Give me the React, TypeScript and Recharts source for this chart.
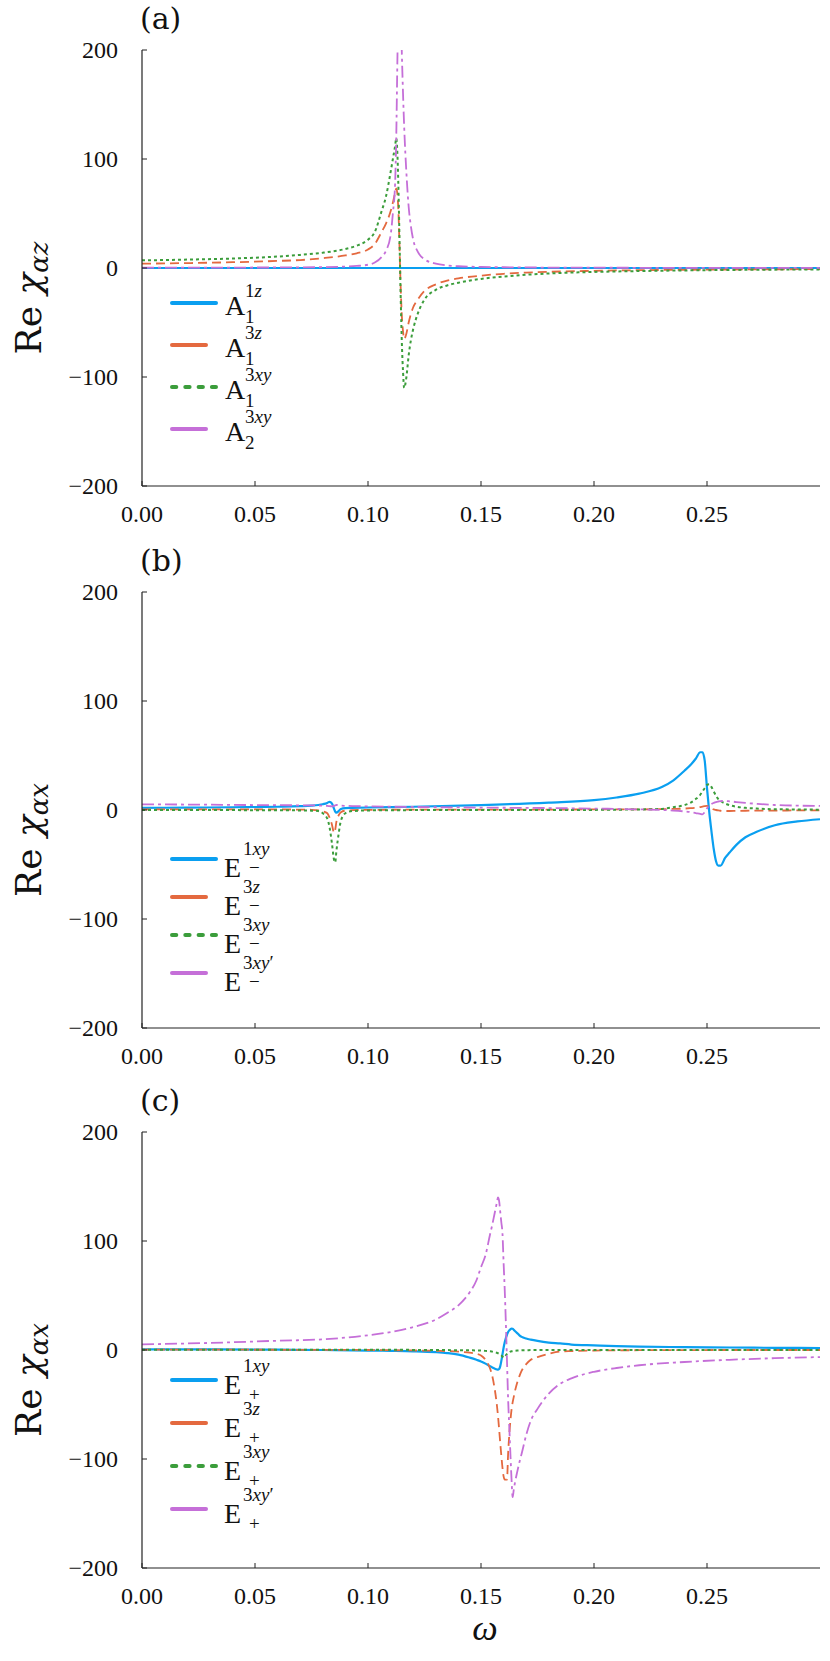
import { LineChart, Line, XAxis, YAxis, Legend } from 'recharts';

const FONT = 'Liberation Serif';
const FONT2 = 'DejaVu Serif';
const AXIS = '#222';
const W = 830;
const PLOT_L = 142;
const PLOT_R = 820;
const PLOT_T = 50;
const PLOT_H = 436;
const PLOT_B = PLOT_T + PLOT_H;

const xTicks = [0, 0.05, 0.1, 0.15, 0.2, 0.25];
const yTicks = [-200, -100, 0, 100, 200];

// panel (a): Re chi_{alpha z}
const omegaA = [0, 0.02, 0.04, 0.06, 0.07, 0.08, 0.09, 0.095, 0.1, 0.103, 0.106, 0.108, 0.11, 0.111, 0.112, 0.1125, 0.113, 0.1135, 0.114, 0.1145, 0.115, 0.1155, 0.116, 0.117, 0.118, 0.119, 0.12, 0.122, 0.125, 0.13, 0.135, 0.14, 0.15, 0.16, 0.17, 0.18, 0.2, 0.22, 0.25, 0.28, 0.3];
const a1_1z = [0, 0, 0, 0, 0, 0, 0, 0, 0, 0, 0, 0, 0, 0, 0, 0, 0, 0, 0, 0, 0, 0, 0, 0, 0, 0, 0, 0, 0, 0, 0, 0, 0, 0, 0, 0, 0, 0, 0, 0, 0];
const a1_3z = [4, 4.5, 5.3, 6.5, 7.3, 9, 11.5, 13.5, 17, 22, 33, 41, 52, 60, 69, 73, 68, 50, 15, -20, -45, -58, -65, -60, -50, -42, -36, -29, -21, -15, -11.5, -9.5, -7, -5.3, -4.2, -3.5, -2.6, -2, -1.5, -1.2, -1];
const a1_3xy = [7, 7.7, 8.7, 10.5, 12, 14, 17.5, 20.5, 26, 33, 52, 66, 88, 100, 112, 119, 105, 70, 20, -30, -70, -95, -110, -100, -80, -66, -56, -42, -29, -20, -16, -13.5, -10, -7.8, -6.2, -5, -3.6, -2.8, -2, -1.5, -1.3];
const a2_3xy = [0.3, 0.3, 0.4, 0.5, 0.6, 0.8, 1.3, 1.9, 3, 5, 10, 16, 30, 50, 78, 120, 190, 245, 260, 235, 195, 160, 130, 87, 56, 38, 26, 15, 8, 4, 2.3, 1.6, 1, 0.7, 0.5, 0.4, 0.3, 0.2, 0.2, 0.1, 0.1];

// panel (b): Re chi_{alpha x}, E-
const omegaB = [0, 0.02, 0.04, 0.06, 0.07, 0.075, 0.078, 0.08, 0.082, 0.083, 0.084, 0.085, 0.0855, 0.086, 0.087, 0.088, 0.09, 0.093, 0.1, 0.12, 0.15, 0.18, 0.2, 0.21, 0.22, 0.23, 0.235, 0.24, 0.243, 0.245, 0.247, 0.248, 0.249, 0.25, 0.251, 0.252, 0.253, 0.254, 0.255, 0.256, 0.258, 0.26, 0.263, 0.267, 0.272, 0.28, 0.29, 0.3];
const em_1xy = [2, 2.2, 2.5, 3, 3.5, 4, 4.6, 5.3, 6.5, 7.5, 6, 1, -1.5, -2.4, -1, 1, 1.8, 2, 2.3, 3, 4.5, 6.8, 9, 11.5, 15, 21, 27, 36, 42, 47, 53, 53, 45, 20, -2, -20, -36, -47, -51, -51, -44, -39, -32, -25, -20, -14, -10.5, -8.5];
const em_3z = [0.6, 0.6, 0.6, 0.5, 0.4, 0.2, -0.3, -1.2, -3, -7, -13, -21, -18, -11, -5, -2, -0.6, -0.2, 0.1, 0.3, 0.4, 0.4, 0.5, 0.5, 0.6, 0.8, 1, 1.3, 1.7, 2, 2.7, 3.1, 3.5, 3.7, 3, 1.5, 0.5, 0, -0.4, -0.7, -0.9, -0.9, -0.8, -0.7, -0.6, -0.5, -0.4, -0.3];
const em_3xy = [0, 0, -0.1, -0.2, -0.4, -0.6, -1, -3, -8, -16, -30, -46, -48, -38, -22, -10, -3, -1, -0.4, -0.1, 0, 0, 0.1, 0.3, 0.5, 1, 2.5, 4.5, 7, 10, 14, 17, 20, 23, 23.6, 21, 17, 13, 10, 8.3, 6, 4.5, 3, 2, 1.3, 0.7, 0.5, 0.3];
const em_3xyp = [5.2, 5, 4.7, 4.4, 4.3, 4.2, 4.1, 4, 3.8, 3.5, 3.3, 3.8, 4.3, 4.6, 4.2, 4, 3.8, 3.6, 3.3, 2.8, 2.2, 1.8, 1.3, 1, 0.6, 0, -0.5, -1.3, -2, -2.8, -3.5, -4, -2, 1.5, 4, 5.5, 6.5, 7.3, 7.8, 8.2, 8.3, 8, 7.3, 6.5, 5.7, 4.6, 4, 3.7];

// panel (c): Re chi_{alpha x}, E+
const omegaC = [0, 0.03, 0.06, 0.08, 0.1, 0.11, 0.12, 0.13, 0.135, 0.14, 0.145, 0.148, 0.15, 0.152, 0.154, 0.155, 0.156, 0.157, 0.1575, 0.158, 0.1585, 0.159, 0.1595, 0.16, 0.1605, 0.161, 0.1615, 0.162, 0.1625, 0.163, 0.1635, 0.164, 0.1645, 0.165, 0.166, 0.167, 0.168, 0.17, 0.172, 0.175, 0.18, 0.185, 0.19, 0.2, 0.21, 0.22, 0.24, 0.26, 0.28, 0.3];
const ep_1xy = [0.6, 0.5, 0.3, 0, -0.5, -0.8, -1.2, -2, -2.8, -4.2, -7, -9, -10.5, -12.5, -15, -16, -17, -17.8, -18, -17.5, -15, -10, -4, 2, 7, 11, 14, 16.5, 18, 19, 19.6, 19.5, 18.5, 17.5, 15.5, 13.5, 12, 10.5, 9.5, 8.3, 6.8, 6, 5, 4.2, 3.5, 3.1, 2.6, 2.3, 2, 1.8];
const ep_3z = [0.3, 0.3, 0.2, 0.1, 0, -0.2, -0.4, -0.7, -1, -1.5, -2.5, -3.5, -5, -9, -17, -24, -35, -50, -60, -72, -85, -97, -108, -116, -119, -119, -119, -95, -78, -65, -55, -48, -43, -38, -30, -24, -19, -13, -9, -6.5, -3.5, -1.5, -1, -0.5, -0.3, -0.2, -0.1, 0, 0, 0];
const ep_3xy = [0.3, 0.3, 0.3, 0.3, 0.2, 0.2, 0.1, 0, -0.1, -0.2, -0.3, -0.4, -0.5, -0.8, -1.2, -1.5, -2, -2.5, -3, -3.5, -4.3, -5, -6, -7, -6.5, -5, -3.5, -2.5, -2, -1.5, -1.2, -1, -0.8, -0.7, -0.5, -0.4, -0.3, -0.2, -0.1, 0, 0, 0, 0, 0, 0, 0, 0, 0, 0, 0];
const ep_3xyp = [5.2, 6.5, 8.5, 9.8, 13.5, 16.5, 21, 28, 34, 41, 53, 64, 76, 87, 106, 115, 125, 135, 140, 137, 127, 117, 107, 80, 55, 25, -10, -45, -70, -95, -118, -135, -128, -122, -112, -103, -95, -78, -65, -54, -40, -31, -26, -20, -16.5, -14, -11, -9, -7.5, -6.5];

const STYLES = [
  { color: '#0a9ff0', width: 2.2, dash: undefined as string | undefined, legendLen: 48, legendDash: undefined as string | undefined },
  { color: '#e4693f', width: 1.8, dash: '9 5', legendLen: 38, legendDash: undefined },
  { color: '#3b9d3b', width: 2, dash: '3 3', legendLen: 48, legendDash: '4.3 9' },
  { color: '#c56fd8', width: 1.8, dash: '12 4 3 4', legendLen: 38, legendDash: undefined },
];

const makeRows = (omega: number[], series: number[][]) =>
  omega.map((w, i) => ({ w, s0: series[0][i], s1: series[1][i], s2: series[2][i], s3: series[3][i] }));

const fmtY = (v: number) => (v < 0 ? `\u2212${Math.abs(v)}` : `${v}`);

const BottomTick = (props: any) => {
  const { x, payload } = props;
  return (
    <g>
      <line x1={x} x2={x} y1={PLOT_B} y2={PLOT_B - 5} stroke={AXIS} strokeWidth={1} />
      <text x={x} y={PLOT_B + 36} textAnchor="middle" fontSize={24} fontFamily={FONT} fill="#111">
        {Number(payload.value).toFixed(2)}
      </text>
    </g>
  );
};

const TopTick = (props: any) => {
  const { x } = props;
  return <line x1={x} x2={x} y1={PLOT_T} y2={PLOT_T + 5} stroke={AXIS} strokeWidth={1} />;
};

const LeftTick = (props: any) => {
  const { y, payload } = props;
  return (
    <g>
      <line x1={PLOT_L} x2={PLOT_L + 5} y1={y} y2={y} stroke={AXIS} strokeWidth={1} />
      <text x={118} y={y + 8} textAnchor="end" fontSize={24} fontFamily={FONT} fill="#111">
        {fmtY(payload.value)}
      </text>
    </g>
  );
};

const RightTick = (props: any) => {
  const { y } = props;
  return <line x1={PLOT_R} x2={PLOT_R - 5} y1={y} y2={y} stroke={AXIS} strokeWidth={1} />;
};

const SideLabel = ({ letter, sub }: { letter: string; sub: string }) => {
  const cx = 41;
  const cy = PLOT_T + PLOT_H / 2 + 30;
  return (
    <g>
      <text x={140} y={PLOT_T - 21} fontSize={30} fontFamily={FONT2} fill="#111">
        ({letter})
      </text>
      <text
        x={cx}
        y={cy}
        transform={`rotate(-90, ${cx}, ${cy})`}
        textAnchor="middle"
        fontSize={36}
        fontFamily={FONT2}
        fill="#111"
      >
        {'Re\u00a0'}
        <tspan fontStyle="italic">χ</tspan>
        <tspan fontStyle="italic" fontSize={26} dy={7}>
          {sub}
        </tspan>
      </text>
    </g>
  );
};

const OmegaLabel = () => (
  <text x={485} y={PLOT_B + 72} textAnchor="middle" fontSize={36} fontStyle="italic" fontFamily={FONT} fill="#111">
    ω
  </text>
);

// digits and primes upright, letters italic
const script = (s: string) =>
  s.split('').map((ch, i) =>
    /[a-z]/.test(ch) ? (
      <tspan key={i} fontStyle="italic">
        {ch}
      </tspan>
    ) : (
      <tspan key={i}>{ch}</tspan>
    ),
  );

interface LegendCfg {
  base: string;
  sups: string[];
  subs: string[];
  sp: number;
  mainX: number;
  supX: number;
  subX: number;
  mainDy: number;
  supDy: number;
  subDy: number;
}

const LegendBox = ({ cfg }: { cfg: LegendCfg }) => (
  <svg width={200} height={230} style={{ overflow: 'visible', display: 'block' }}>
    {STYLES.map((st, i) => {
      const y = 20 + i * cfg.sp;
      return (
        <g key={i} fontFamily={FONT} fill="#111">
          <line
            x1={7}
            x2={7 + st.legendLen - 4}
            y1={y}
            y2={y}
            stroke={st.color}
            strokeWidth={4}
            strokeDasharray={st.legendDash}
            strokeLinecap="round"
          />
          <text x={cfg.mainX} y={y + cfg.mainDy} fontSize={28}>
            {cfg.base}
          </text>
          <text x={cfg.supX} y={y + cfg.supDy} fontSize={19}>
            {script(cfg.sups[i])}
          </text>
          <text x={cfg.subX} y={y + cfg.subDy} fontSize={19}>
            {cfg.subs[i]}
          </text>
        </g>
      );
    })}
  </svg>
);

const legendA: LegendCfg = {
  base: 'A', sups: ['1z', '3z', '3xy', '3xy'], subs: ['1', '1', '1', '2'],
  sp: 42, mainX: 60, supX: 80, subX: 80, mainDy: 12, supDy: -6.5, subDy: 19.5,
};
const legendB: LegendCfg = {
  base: 'E', sups: ['1xy', '3z', '3xy', '3xy\u2032'], subs: ['\u2212', '\u2212', '\u2212', '\u2212'],
  sp: 38, mainX: 59, supX: 78, subX: 84, mainDy: 18, supDy: -4, subDy: 15,
};
const legendC: LegendCfg = {
  base: 'E', sups: ['1xy', '3z', '3xy', '3xy\u2032'], subs: ['+', '+', '+', '+'],
  sp: 43, mainX: 59, supX: 78, subX: 84, mainDy: 14, supDy: -8, subDy: 21,
};

interface PanelProps {
  top: number;
  height: number;
  data: Record<string, number>[];
  letter: string;
  ySub: string;
  legend: LegendCfg;
  legendTop: number;
  omega?: boolean;
}

function Panel({ top, height, data, letter, ySub, legend, legendTop, omega }: PanelProps) {
  return (
    <div style={{ position: 'absolute', left: 0, top }}>
      <LineChart
        width={W}
        height={height}
        data={data}
        margin={{ top: PLOT_T, right: W - PLOT_R, bottom: height - PLOT_B - 50, left: 0 }}
      >
        <XAxis
          xAxisId="b"
          dataKey="w"
          type="number"
          domain={[0, 0.3]}
          ticks={xTicks}
          interval={0}
          height={50}
          allowDataOverflow
          axisLine={{ stroke: AXIS, strokeWidth: 1.2 }}
          tickLine={false}
          tick={BottomTick}
          label={omega ? <OmegaLabel /> : undefined}
        />
        <XAxis
          xAxisId="t"
          orientation="top"
          dataKey="w"
          type="number"
          domain={[0, 0.3]}
          ticks={xTicks.slice(1)}
          interval={0}
          height={0}
          axisLine={{ stroke: AXIS, strokeWidth: 1.2 }}
          tickLine={false}
          tick={TopTick}
        />
        <YAxis
          yAxisId="l"
          domain={[-200, 200]}
          ticks={yTicks}
          interval={0}
          width={PLOT_L}
          allowDataOverflow
          axisLine={{ stroke: AXIS, strokeWidth: 1.2 }}
          tickLine={false}
          tick={LeftTick}
          label={<SideLabel letter={letter} sub={ySub} />}
        />
        <YAxis
          yAxisId="r"
          orientation="right"
          domain={[-200, 200]}
          ticks={[-100, 0, 100]}
          interval={0}
          width={0}
          axisLine={{ stroke: AXIS, strokeWidth: 1.2 }}
          tickLine={false}
          tick={RightTick}
        />
        {STYLES.map((st, i) => (
          <Line
            key={i}
            xAxisId="b"
            yAxisId="l"
            dataKey={`s${i}`}
            type="monotone"
            stroke={st.color}
            strokeWidth={st.width}
            strokeDasharray={st.dash}
            dot={false}
            activeDot={false}
            isAnimationActive={false}
          />
        ))}
        <Legend
          layout="horizontal"
          verticalAlign="middle"
          align="center"
          wrapperStyle={{ left: 165, top: legendTop, width: 200, height: 230 }}
          content={() => <LegendBox cfg={legend} />}
        />
      </LineChart>
    </div>
  );
}

export default function App() {
  const dataA = makeRows(omegaA, [a1_1z, a1_3z, a1_3xy, a2_3xy]);
  const dataB = makeRows(omegaB, [em_1xy, em_3z, em_3xy, em_3xyp]);
  const dataC = makeRows(omegaC, [ep_1xy, ep_3z, ep_3xy, ep_3xyp]);

  return (
    <div style={{ position: 'absolute', left: 0, top: 0, width: W, height: 1661, background: '#fff' }}>
      <Panel top={0} height={536} data={dataA} letter="a" ySub="αz" legend={legendA} legendTop={283} />
      <Panel top={542} height={536} data={dataB} letter="b" ySub="αx" legend={legendB} legendTop={297} />
      <Panel top={1082} height={580} data={dataC} letter="c" ySub="αx" legend={legendC} legendTop={278} omega />
    </div>
  );
}
